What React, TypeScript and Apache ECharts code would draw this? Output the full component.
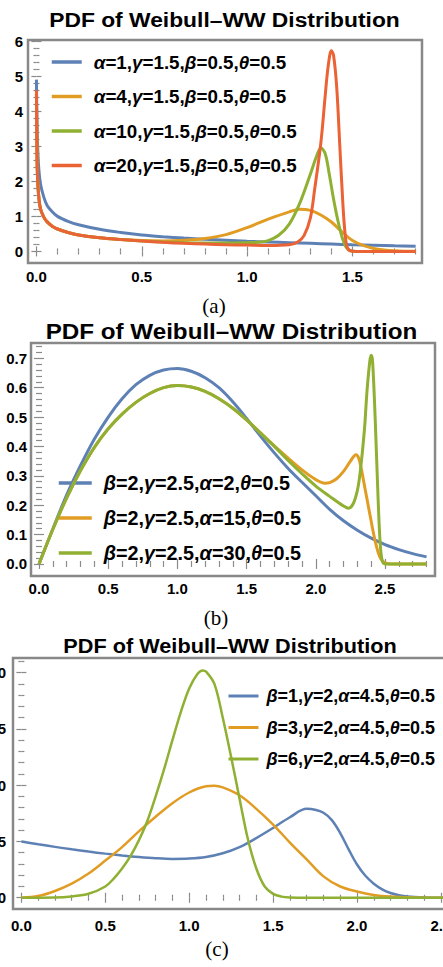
import React, { useEffect, useRef } from "react";
import * as echarts from "echarts";

type Pt = [number, number];

const COLORS = ["#5E81B5", "#E19C24", "#8FB032", "#EB6235"];
const SANS = '"Liberation Sans", Arial, sans-serif';
const SERIF = '"Liberation Serif", "Times New Roman", serif';

const titleText = "PDF of Weibull–WW Distribution";
const captions = ["(a)", "(b)", "(c)"];

// ---------- Panel (a) ----------
const namesA = [
  "α=1,γ=1.5,β=0.5,θ=0.5",
  "α=4,γ=1.5,β=0.5,θ=0.5",
  "α=10,γ=1.5,β=0.5,θ=0.5",
  "α=20,γ=1.5,β=0.5,θ=0.5",
];
const aAlpha1: Pt[] = [
  [0, 4.9], [0.003, 3.6], [0.007, 2.8], [0.012, 2.3], [0.02, 1.9], [0.035, 1.55], [0.05, 1.32],
  [0.075, 1.13], [0.1, 1.0], [0.15, 0.86], [0.2, 0.76], [0.3, 0.63], [0.4, 0.54], [0.5, 0.47],
  [0.6, 0.42], [0.7, 0.38], [0.8, 0.35], [0.9, 0.32], [1.0, 0.29], [1.1, 0.27], [1.2, 0.25],
  [1.3, 0.23], [1.4, 0.21], [1.5, 0.19], [1.6, 0.175], [1.7, 0.16], [1.8, 0.15],
];
const aAlpha4: Pt[] = [
  [0, 4.5], [0.003, 2.6], [0.007, 1.9], [0.012, 1.5], [0.02, 1.2], [0.035, 0.98], [0.05, 0.85],
  [0.075, 0.72], [0.1, 0.64], [0.15, 0.54], [0.2, 0.47], [0.3, 0.39], [0.4, 0.34], [0.5, 0.31],
  [0.6, 0.3], [0.7, 0.32], [0.8, 0.37], [0.9, 0.48], [1.0, 0.68], [1.1, 0.92], [1.2, 1.13],
  [1.25, 1.2], [1.3, 1.17], [1.35, 1.04], [1.4, 0.84], [1.45, 0.56], [1.5, 0.31], [1.55, 0.17],
  [1.6, 0.085], [1.65, 0.04], [1.7, 0.016], [1.75, 0.006], [1.8, 0.002],
];
const aAlpha10: Pt[] = [
  [0, 4.5], [0.003, 2.6], [0.007, 1.9], [0.012, 1.5], [0.02, 1.2], [0.035, 0.98], [0.05, 0.85],
  [0.075, 0.72], [0.1, 0.64], [0.15, 0.54], [0.2, 0.47], [0.3, 0.39], [0.4, 0.34], [0.5, 0.3],
  [0.6, 0.27], [0.7, 0.25], [0.8, 0.24], [0.9, 0.24], [1.0, 0.25], [1.05, 0.26], [1.1, 0.31],
  [1.15, 0.46], [1.2, 0.78], [1.25, 1.38], [1.3, 2.2], [1.33, 2.72], [1.35, 2.95], [1.37, 2.8],
  [1.39, 2.2], [1.41, 1.5], [1.43, 0.9], [1.45, 0.42], [1.47, 0.12], [1.49, 0.02], [1.52, 0],
  [1.65, 0], [1.8, 0],
];
const aAlpha20: Pt[] = [
  [0, 4.6], [0.003, 2.6], [0.007, 1.9], [0.012, 1.5], [0.02, 1.2], [0.035, 0.98], [0.05, 0.85],
  [0.075, 0.72], [0.1, 0.64], [0.15, 0.54], [0.2, 0.47], [0.3, 0.39], [0.4, 0.34], [0.5, 0.3],
  [0.6, 0.26], [0.7, 0.23], [0.8, 0.21], [0.9, 0.19], [1.0, 0.18], [1.1, 0.17], [1.2, 0.19],
  [1.24, 0.27], [1.27, 0.45], [1.3, 0.95], [1.32, 1.75], [1.35, 3.1], [1.37, 4.4], [1.385, 5.3],
  [1.4, 5.72], [1.41, 5.6], [1.425, 4.7], [1.44, 3.0], [1.455, 1.3], [1.465, 0.5], [1.475, 0.12],
  [1.49, 0.02], [1.52, 0], [1.65, 0], [1.8, 0],
];
const ticksAX = [0, 0.5, 1.0, 1.5];
const ticksAY = [0, 1, 2, 3, 4, 5, 6];

// ---------- Panel (b) ----------
const namesB = [
  "β=2,γ=2.5,α=2,θ=0.5",
  "β=2,γ=2.5,α=15,θ=0.5",
  "β=2,γ=2.5,α=30,θ=0.5",
];
const bAlpha2: Pt[] = [
  [0, 0], [0.1, 0.12], [0.2, 0.235], [0.3, 0.335], [0.4, 0.425], [0.5, 0.5], [0.6, 0.562],
  [0.7, 0.61], [0.8, 0.642], [0.9, 0.66], [1.0, 0.665], [1.1, 0.656], [1.2, 0.634], [1.3, 0.6],
  [1.4, 0.552], [1.5, 0.495], [1.6, 0.435], [1.7, 0.378], [1.8, 0.325], [1.9, 0.278],
  [2.0, 0.232], [2.1, 0.186], [2.2, 0.147], [2.3, 0.115], [2.4, 0.088], [2.5, 0.066],
  [2.6, 0.049], [2.7, 0.035], [2.8, 0.024],
];
const bAlpha15: Pt[] = [
  [0, 0], [0.1, 0.118], [0.2, 0.225], [0.3, 0.318], [0.4, 0.397], [0.5, 0.46], [0.6, 0.51],
  [0.7, 0.55], [0.8, 0.58], [0.9, 0.6], [1.0, 0.607], [1.1, 0.602], [1.2, 0.587], [1.3, 0.562],
  [1.4, 0.53], [1.5, 0.49], [1.6, 0.446], [1.7, 0.402], [1.8, 0.36], [1.9, 0.32], [2.0, 0.287],
  [2.066, 0.275], [2.1, 0.277], [2.15, 0.29], [2.2, 0.315], [2.25, 0.35], [2.29, 0.372],
  [2.31, 0.36], [2.33, 0.32], [2.35, 0.27], [2.37, 0.22], [2.39, 0.17], [2.41, 0.12],
  [2.43, 0.075], [2.45, 0.04], [2.47, 0.017], [2.5, 0.004], [2.55, 0], [2.7, 0], [2.8, 0],
];
const bAlpha30: Pt[] = [
  [0, 0], [0.1, 0.118], [0.2, 0.225], [0.3, 0.318], [0.4, 0.397], [0.5, 0.46], [0.6, 0.51],
  [0.7, 0.55], [0.8, 0.58], [0.9, 0.6], [1.0, 0.607], [1.1, 0.602], [1.2, 0.587], [1.3, 0.562],
  [1.4, 0.53], [1.5, 0.49], [1.6, 0.445], [1.7, 0.4], [1.8, 0.352], [1.9, 0.307], [2.0, 0.265],
  [2.1, 0.23], [2.2, 0.197], [2.235, 0.19], [2.27, 0.205], [2.3, 0.25], [2.32, 0.31],
  [2.35, 0.45], [2.37, 0.59], [2.39, 0.69], [2.4, 0.71], [2.41, 0.69], [2.43, 0.48],
  [2.45, 0.22], [2.465, 0.07], [2.48, 0.01], [2.5, 0], [2.6, 0], [2.7, 0], [2.8, 0],
];
const ticksBX = [0, 0.5, 1.0, 1.5, 2.0, 2.5];
const ticksBY = [0, 0.1, 0.2, 0.3, 0.4, 0.5, 0.6, 0.7];

// ---------- Panel (c) ----------
const namesC = [
  "β=1,γ=2,α=4.5,θ=0.5",
  "β=3,γ=2,α=4.5,θ=0.5",
  "β=6,γ=2,α=4.5,θ=0.5",
];
const cBeta1: Pt[] = [
  [0, 0.5], [0.1, 0.475], [0.2, 0.452], [0.3, 0.43], [0.4, 0.41], [0.5, 0.392], [0.6, 0.376],
  [0.7, 0.362], [0.8, 0.351], [0.9, 0.345], [1.0, 0.348], [1.1, 0.362], [1.2, 0.395],
  [1.3, 0.45], [1.4, 0.53], [1.5, 0.62], [1.6, 0.715], [1.7, 0.79], [1.75, 0.782], [1.8, 0.755],
  [1.85, 0.69], [1.9, 0.575], [1.95, 0.43], [2.0, 0.295], [2.05, 0.195], [2.1, 0.125],
  [2.15, 0.075], [2.2, 0.042], [2.25, 0.022], [2.3, 0.01], [2.4, 0.002], [2.5, 0], [2.6, 0],
];
const cBeta3: Pt[] = [
  [0, 0], [0.1, 0.015], [0.2, 0.06], [0.3, 0.125], [0.4, 0.215], [0.5, 0.33], [0.6, 0.45],
  [0.7, 0.59], [0.8, 0.72], [0.9, 0.84], [1.0, 0.935], [1.1, 0.99], [1.15, 0.995], [1.2, 0.98],
  [1.3, 0.91], [1.4, 0.79], [1.5, 0.65], [1.6, 0.49], [1.7, 0.34], [1.8, 0.19], [1.9, 0.1],
  [2.0, 0.055], [2.1, 0.025], [2.2, 0.01], [2.3, 0.004], [2.4, 0.001], [2.5, 0], [2.6, 0],
];
const cBeta6: Pt[] = [
  [0, 0], [0.2, 0.002], [0.3, 0.012], [0.4, 0.035], [0.5, 0.1], [0.55, 0.17], [0.6, 0.26],
  [0.65, 0.37], [0.7, 0.51], [0.75, 0.68], [0.8, 0.9], [0.85, 1.14], [0.9, 1.4], [0.95, 1.65],
  [1.0, 1.86], [1.05, 1.99], [1.08, 2.02], [1.1, 2.01], [1.15, 1.9], [1.2, 1.6], [1.25, 1.25],
  [1.3, 0.88], [1.35, 0.52], [1.4, 0.26], [1.45, 0.1], [1.5, 0.035], [1.55, 0.01], [1.6, 0.002],
  [1.7, 0], [2.0, 0], [2.3, 0], [2.6, 0],
];
const ticksCX = [0, 0.5, 1.0, 1.5, 2.0, 2.5];
const ticksCY = [0, 0.5, 1.0, 1.5, 2.0];

function minorTicks(from: number, to: number, step: number, majors: number[]) {
  const out: number[] = [];
  const n = Math.round((to - from) / step);
  for (let i = 0; i <= n; i++) {
    const v = +(from + i * step).toFixed(4);
    if (!majors.some((m) => Math.abs(m - v) < 1e-6)) out.push(v);
  }
  return out;
}

interface PanelCfg {
  grid: { left: number; top: number; width: number; height: number };
  xMin: number; xMax: number; yMin: number; yMax: number;
  xMajor: number[]; xMinor: number[]; yMajor: number[]; yMinor: number[];
  xFmt: (v: number) => string; yFmt: (v: number) => string;
  xMargin: number; yMargin: number;
}

const tickStyle = { color: "#8a8a8a", width: 1.2 };
const labelStyle = { color: "#000", fontSize: 15, fontWeight: "bold", fontFamily: SANS };

function makeAxes(gi: number, c: PanelCfg) {
  const x = (pos: string, vals: number[], len: number, labels: boolean) => ({
    type: "value", gridIndex: gi, min: c.xMin, max: c.xMax, position: pos,
    axisLine: { show: false }, splitLine: { show: false },
    axisTick: { show: true, inside: true, length: len, customValues: vals, lineStyle: tickStyle },
    axisLabel: labels
      ? { show: true, customValues: c.xMajor, formatter: c.xFmt, margin: c.xMargin, ...labelStyle }
      : { show: false },
  });
  const y = (pos: string, vals: number[], len: number, labels: boolean) => ({
    type: "value", gridIndex: gi, min: c.yMin, max: c.yMax, position: pos,
    axisLine: { show: false }, splitLine: { show: false },
    axisTick: { show: true, inside: true, length: len, customValues: vals, lineStyle: tickStyle },
    axisLabel: labels
      ? { show: true, customValues: c.yMajor, formatter: c.yFmt, margin: c.yMargin, ...labelStyle }
      : { show: false },
  });
  return {
    xAxes: [
      x("bottom", c.xMajor, 5, true), x("bottom", c.xMinor, 3, false),
      x("top", c.xMajor, 5, false), x("top", c.xMinor, 3, false),
    ],
    yAxes: [
      y("left", c.yMajor, 5, true), y("left", c.yMinor, 3, false),
      y("right", c.yMajor, 5, false), y("right", c.yMinor, 3, false),
    ],
  };
}

const fmt1 = (v: number) => v.toFixed(1);
const fmt0 = (v: number) => v.toFixed(0);

const panels: PanelCfg[] = [
  {
    grid: { left: 28, top: 40, width: 394, height: 223 },
    xMin: -0.04, xMax: 1.83, yMin: -0.33, yMax: 6.03,
    xMajor: ticksAX, xMinor: minorTicks(0, 1.8, 0.1, ticksAX),
    yMajor: ticksAY, yMinor: minorTicks(0, 6, 0.2, ticksAY),
    xFmt: fmt1, yFmt: fmt0, xMargin: 6, yMargin: 5,
  },
  {
    grid: { left: 31, top: 343, width: 404, height: 233 },
    xMin: -0.058, xMax: 2.861, yMin: -0.041, yMax: 0.752,
    xMajor: ticksBX, xMinor: minorTicks(0, 2.8, 0.1, ticksBX),
    yMajor: ticksBY, yMinor: minorTicks(0, 0.74, 0.02, ticksBY),
    xFmt: fmt1, yFmt: fmt1, xMargin: 4.5, yMargin: 4,
  },
  {
    grid: { left: 13, top: 658, width: 444.7, height: 251 },
    xMin: -0.05, xMax: 2.6, yMin: -0.1, yMax: 2.13,
    xMajor: ticksCX, xMinor: minorTicks(0, 2.6, 0.1, ticksCX),
    yMajor: ticksCY, yMinor: minorTicks(0, 2.1, 0.1, ticksCY),
    xFmt: fmt1, yFmt: fmt1, xMargin: 8.5, yMargin: 7,
  },
];

const panelSeries: { names: string[]; data: Pt[][]; colors: string[]; width: number }[] = [
  { names: namesA, data: [aAlpha1, aAlpha4, aAlpha10, aAlpha20], colors: COLORS, width: 3 },
  { names: namesB, data: [bAlpha2, bAlpha15, bAlpha30], colors: COLORS.slice(0, 3), width: 3 },
  { names: namesC, data: [cBeta1, cBeta3, cBeta6], colors: COLORS.slice(0, 3), width: 2.5 },
];

const legendCfg = [
  { left: 50, top: 51, itemWidth: 30, itemHeight: 22, itemGap: 12.5, fontSize: 18.8, lh: 22, pad: 7 },
  { left: 57, top: 472, itemWidth: 33, itemHeight: 22, itemGap: 13, fontSize: 19.8, lh: 22, pad: 7 },
  { left: 227, top: 686, itemWidth: 30, itemHeight: 20, itemGap: 11.5, fontSize: 17.9, lh: 20, pad: 3 },
];

const titleCfg = [
  { x: 224.5, y: 20, size: 19.5, sx: 1.17 },
  { x: 231.5, y: 331, size: 22, sx: 1.1 },
  { x: 230, y: 646, size: 20, sx: 1.085 },
];
const captionCfg = [
  { x: 214, y: 306 },
  { x: 216, y: 618 },
  { x: 217, y: 949 },
];

function buildOption() {
  const xAxis: any[] = [];
  const yAxis: any[] = [];
  const grid: any[] = [];
  const series: any[] = [];
  const legend: any[] = [];
  panels.forEach((p, gi) => {
    grid.push({
      ...p.grid, show: true, borderColor: "#888888", borderWidth: 2.5,
      backgroundColor: "transparent", containLabel: false, outerBoundsMode: "none",
    });
    const ax = makeAxes(gi, p);
    xAxis.push(...ax.xAxes);
    yAxis.push(...ax.yAxes);
    const ps = panelSeries[gi];
    ps.names.forEach((name, si) => {
      series.push({
        type: "line", name, xAxisIndex: gi * 4, yAxisIndex: gi * 4,
        data: ps.data[si], symbol: "none", showSymbol: false,
        smooth: 0.35,
        lineStyle: { color: ps.colors[si], width: ps.width },
        itemStyle: { color: ps.colors[si] },
        z: 3 + si,
      });
    });
    const lc = legendCfg[gi];
    legend.push({
      data: ps.names, orient: "vertical", left: lc.left, top: lc.top, padding: 0,
      itemWidth: lc.itemWidth, itemHeight: lc.itemHeight, itemGap: lc.itemGap,
      selectedMode: false,
      itemStyle: { opacity: 0 },
      lineStyle: { width: panelSeries[gi].width + 0.5 },
      formatter: (name: string) => name.replace(/[αβγθ]/g, (m) => `{g|${m}}`),
      textStyle: {
        fontFamily: SANS, fontSize: lc.fontSize, fontWeight: "bold", color: "#000",
        lineHeight: lc.lh, padding: [0, 0, 0, lc.pad],
        rich: {
          g: { fontFamily: SANS, fontSize: lc.fontSize, fontWeight: "bold", fontStyle: "italic", color: "#000", lineHeight: lc.lh },
        },
      },
    });
  });

  const graphic: any[] = [];
  titleCfg.forEach((t) => {
    graphic.push({
      type: "text", x: t.x, y: t.y, scaleX: t.sx, silent: true,
      style: { text: titleText, fontFamily: SANS, fontSize: t.size, fontWeight: "bold", fill: "#000", align: "center", verticalAlign: "middle" },
    });
  });
  captionCfg.forEach((c, i) => {
    graphic.push({
      type: "text", x: c.x, y: c.y, silent: true,
      style: { text: captions[i], fontFamily: SERIF, fontSize: 21, fill: "#000", align: "center", verticalAlign: "middle" },
    });
  });

  return { animation: false, backgroundColor: "#ffffff", grid, xAxis, yAxis, series, legend, graphic };
}

export default function App() {
  const ref = useRef<HTMLDivElement>(null);
  useEffect(() => {
    if (!ref.current) return;
    const chart = echarts.init(ref.current, undefined, { renderer: "svg" });
    chart.setOption(buildOption() as any);
    return () => chart.dispose();
  }, []);
  return (
    <div style={{ position: "absolute", left: 0, top: 0, width: 443, height: 967, overflow: "hidden", background: "#fff" }}>
      <div ref={ref} style={{ width: 443, height: 967 }} />
    </div>
  );
}
